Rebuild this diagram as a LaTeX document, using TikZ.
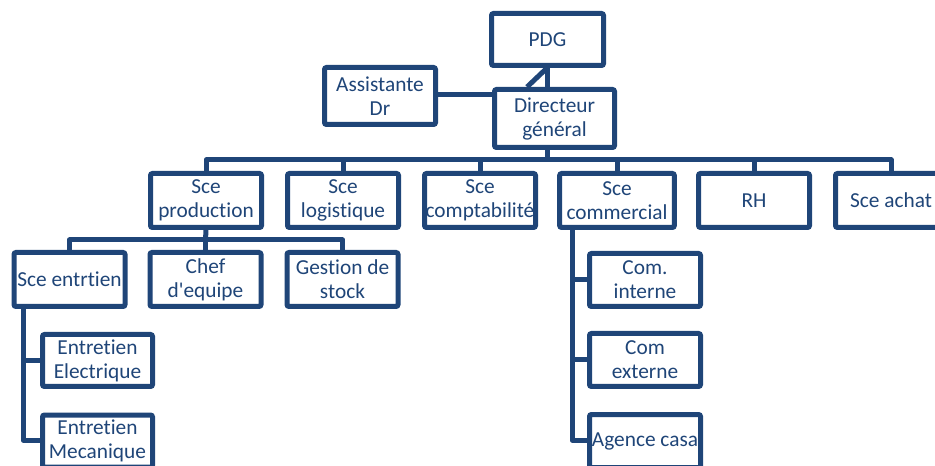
\documentclass[tikz,border=0pt]{standalone}
\usepackage{fontspec}
\newfontfamily\carl{Carlito}[Ligatures={NoCommon}]
\definecolor{dk}{RGB}{31,69,120}
\tikzset{
  box/.style={draw=dk, line width=3.75pt, rounded corners=1.5pt, fill=white,
    minimum width=83.25pt, minimum height=40.5pt, inner sep=0pt, align=center,
    text=dk, font=\carl\fontsize{16}{18}\selectfont},
  link/.style={draw=dk, line width=3.75pt, line join=round}
}
\begin{document}
\begin{tikzpicture}[x=0.75pt,y=-0.75pt]
\useasboundingbox (0,0) rectangle (935,466);
\clip (0,0) rectangle (935,466);
% top
\node[box, minimum width=84pt, minimum height=39pt] (pdg) at (547.5,39.5) {PDG};
\node[box, minimum height=42.75pt] (asst) at (380,96) {Assistante\\Dr};
\node[box, minimum width=90pt, minimum height=43.5pt] (dg) at (554.5,118.5) {Directeur\\général};
% row 2
\node[box] (prod) at (206,200.5) {Sce\\production};
\node[box] (logi) at (343,200.5) {Sce\\logistique};
\node[box] (compta) at (480,200.5) {Sce\\comptabilité};
\node[box, minimum width=86pt] (comm) at (617,200.5) {Sce\\commercial};
\node[box] (rh) at (754,200.5) {RH};
\node[box] (achat) at (891,200.5) {Sce achat};
% row 3
\node[box] (entr) at (69.5,279.5) {Sce entrtien};
\node[box] (chef) at (205.5,279.5) {Chef\\d'equipe};
\node[box] (gest) at (342.5,279.5) {Gestion de\\stock};
% entretien column
\node[box, minimum width=82.5pt, minimum height=39pt] (elec) at (97.5,360.5) {Entretien\\Electrique};
\node[box, minimum width=82.5pt, minimum height=39pt] (meca) at (97.5,441) {Entretien\\Mecanique};
% commercial column
\node[box, minimum width=83.25pt, minimum height=39.75pt] (cint) at (645,280) {Com.\\interne};
\node[box, minimum width=83.25pt, minimum height=39.75pt] (cext) at (645,360) {Com\\externe};
\node[box, minimum width=83.25pt, minimum height=39.75pt] (agen) at (645,441) {Agence casa};
% connectors
\coordinate (top) at (547,68);
\coordinate (bus) at (547,160);
\coordinate (bus3) at (205.5,240);
\coordinate (ve) at (23,440);
\coordinate (vc) at (572,440);
\path[link] (top) -- (top |- dg.north);
\path[link] (top) -- (527,87);
\path[link] (asst.east |- 0,95) -- (dg.west |- 0,95);
\path[link] (bus |- dg.south) -- (bus);
\path[link] (prod.north) |- (bus) -| (achat.north);
\path[link] (logi.north) -- (logi.north |- bus);
\path[link] (compta.north) -- (compta.north |- bus);
\path[link] (comm.north) -- (comm.north |- bus);
\path[link] (rh.north) -- (rh.north |- bus);
\path[link] (prod.south) -- (bus3);
\path[link] (entr.north) |- (bus3) -| (gest.north);
\path[link] (chef.north) -- (chef.north |- bus3);
\path[link] (ve |- entr.south) -- (ve) -- (meca.west |- ve);
\path[link] (ve |- elec.west) -- (elec.west);
\path[link] (vc |- comm.south) -- (vc) -- (agen.west |- vc);
\path[link] (vc |- cint.west) -- (cint.west);
\path[link] (vc |- cext.west) -- (cext.west);
\end{tikzpicture}
\end{document}
